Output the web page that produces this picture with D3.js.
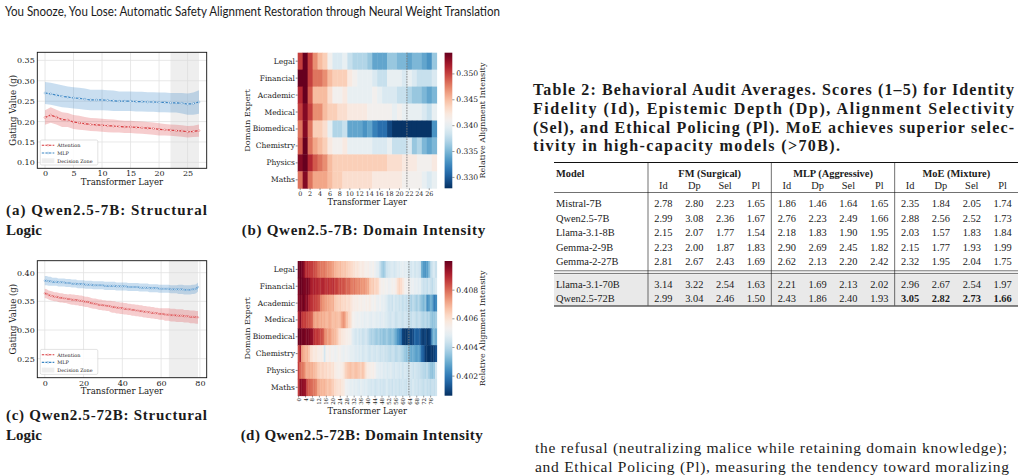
<!DOCTYPE html>
<html>
<head>
<meta charset="utf-8">
<script src="https://cdn.jsdelivr.net/npm/d3@7"></script>
<style>
  html, body { margin: 0; padding: 0; background: #fff; }
  svg { display: block; }
</style>
</head>
<body>
<div id="page"></div>
<script>
// ---------------- data ----------------
const headerText = "You Snooze, You Lose: Automatic Safety Alignment Restoration through Neural Weight Translation";

// (a) Qwen2.5-7B gating, 28 layers
const attn7B = [.210,.216,.211,.205,.204,.199,.197,.195,.193,.192,.191,.190,.189,.188,.187,.187,.186,.185,.184,.183,.181,.180,.179,.178,.177,.175,.176,.178];
const attnStd7B = [.018,.019,.018,.018,.017,.017,.017,.016,.016,.016,.016,.016,.016,.015,.015,.015,.015,.015,.015,.015,.015,.014,.014,.014,.014,.014,.014,.015];
const mlp7B = [.270,.268,.265,.262,.260,.258,.257,.255,.253,.253,.253,.252,.251,.250,.250,.250,.249,.249,.248,.248,.247,.247,.246,.246,.245,.243,.244,.248];
const mlpStd7B = [.027,.027,.027,.027,.026,.026,.026,.026,.025,.025,.025,.025,.025,.024,.024,.024,.024,.024,.024,.024,.024,.024,.024,.024,.025,.026,.027,.029];

// (c) Qwen2.5-72B gating, 80 layers
const attn72B = [
  .364,.363,.361,.360,.359,.358,.358,.357,.356,.356,
  .355,.355,.354,.354,.353,.353,.352,.352,.351,.351,
  .350,.349,.349,.348,.347,.346,.346,.345,.344,.344,
  .343,.343,.342,.342,.341,.340,.340,.339,.339,.338,
  .338,.337,.337,.336,.336,.335,.335,.334,.334,.333,
  .333,.332,.332,.331,.331,.330,.330,.329,.329,.328,
  .328,.328,.327,.327,.327,.326,.326,.326,.325,.325,
  .325,.325,.324,.324,.324,.323,.323,.323,.322,.322];
const attnStd72B = [
  .008,.008,.008,.008,.008,.008,.008,.008,.008,.008,
  .008,.008,.008,.009,.009,.009,.009,.009,.009,.009,
  .009,.009,.009,.009,.009,.009,.009,.009,.009,.009,
  .009,.009,.009,.009,.010,.010,.010,.010,.010,.010,
  .010,.010,.010,.010,.010,.010,.010,.010,.010,.010,
  .010,.010,.010,.010,.010,.010,.010,.010,.010,.010,
  .010,.010,.011,.011,.011,.011,.011,.011,.011,.011,
  .011,.011,.011,.011,.011,.011,.011,.011,.011,.011];
const mlp72B = [
  .386,.386,.385,.385,.384,.384,.384,.383,.383,.383,
  .383,.382,.382,.382,.381,.381,.381,.380,.380,.380,
  .380,.379,.379,.379,.379,.378,.378,.378,.378,.378,
  .378,.377,.377,.377,.377,.377,.377,.376,.376,.376,
  .376,.376,.376,.375,.375,.375,.375,.375,.375,.374,
  .374,.374,.374,.374,.373,.373,.373,.373,.373,.372,
  .372,.372,.372,.372,.372,.371,.371,.371,.371,.371,
  .371,.371,.370,.370,.370,.370,.371,.371,.372,.375];
const mlpStd72B = [
  .008,.008,.008,.008,.007,.007,.007,.007,.007,.007,
  .007,.007,.007,.007,.007,.007,.007,.007,.007,.007,
  .007,.007,.007,.007,.007,.007,.007,.007,.007,.007,
  .007,.007,.007,.007,.007,.007,.007,.007,.007,.007,
  .007,.007,.007,.007,.007,.007,.007,.007,.007,.007,
  .007,.007,.007,.007,.007,.007,.007,.007,.007,.007,
  .007,.007,.007,.007,.007,.007,.007,.007,.007,.008,
  .008,.008,.008,.008,.008,.008,.008,.008,.008,.008];

const legendLabels = ["Attention", "MLP", "Decision Zone"];
const domains = ["Legal", "Financial", "Academic", "Medical", "Biomedical", "Chemistry", "Physics", "Maths"];

// (b) relative alignment intensity, Qwen2.5-7B (rows = domains, cols = 28 layers)
const heat7B = [
  [.350,.354,.350,.347,.345,.344,.341,.339,.339,.340,.338,.337,.337,.337,.336,.334,.334,.334,.336,.336,.335,.335,.334,.335,.335,.334,.333,.336],
  [.354,.354,.350,.348,.348,.347,.345,.344,.344,.344,.342,.341,.340,.340,.340,.339,.338,.338,.340,.340,.340,.339,.340,.339,.338,.338,.338,.339],
  [.351,.354,.349,.345,.345,.345,.343,.341,.341,.342,.340,.340,.340,.340,.340,.341,.340,.339,.339,.339,.338,.338,.337,.336,.336,.335,.334,.335],
  [.350,.353,.350,.347,.347,.345,.344,.344,.343,.343,.342,.342,.342,.342,.341,.341,.341,.341,.341,.340,.341,.340,.340,.340,.340,.339,.338,.340],
  [.348,.353,.348,.344,.344,.343,.340,.337,.337,.338,.334,.334,.334,.333,.334,.332,.331,.331,.329,.328,.328,.328,.328,.328,.328,.328,.328,.333],
  [.349,.354,.348,.346,.345,.344,.342,.341,.341,.342,.340,.340,.340,.340,.340,.339,.339,.339,.340,.338,.338,.338,.339,.336,.337,.335,.334,.335],
  [.353,.354,.351,.349,.348,.347,.345,.344,.344,.344,.344,.344,.344,.344,.344,.344,.344,.344,.343,.343,.343,.342,.342,.342,.341,.341,.341,.342],
  [.348,.353,.348,.346,.346,.346,.345,.344,.344,.343,.343,.343,.343,.343,.343,.342,.342,.342,.342,.342,.342,.341,.341,.341,.341,.340,.339,.340]
];

// (d) relative alignment intensity, Qwen2.5-72B (rows = domains, cols = 80 layers)
const heat72B = [
  [.4099,.4100,.4098,.4096,.4088,.4089,.4087,.4086,.4086,.4084,.4083,.4080,.4079,.4078,.4077,.4078,.4076,.4075,.4074,.4073,
   .4072,.4069,.4068,.4067,.4068,.4066,.4065,.4066,.4064,.4063,.4062,.4061,.4060,.4058,.4059,.4057,.4056,.4057,.4055,.4054,
   .4055,.4053,.4052,.4054,.4051,.4049,.4048,.4042,.4038,.4036,.4040,.4044,.4045,.4046,.4047,.4045,.4046,.4048,.4047,.4049,
   .4050,.4048,.4049,.4047,.4046,.4045,.4047,.4044,.4046,.4045,.4043,.4030,.4026,.4025,.4027,.4032,.4040,.4044,.4046,.4043],
  [.4097,.4100,.4099,.4098,.4097,.4098,.4096,.4092,.4090,.4091,.4089,.4090,.4088,.4089,.4090,.4088,.4087,.4088,.4086,.4087,
   .4088,.4085,.4086,.4083,.4084,.4082,.4083,.4081,.4080,.4081,.4078,.4077,.4078,.4076,.4075,.4076,.4074,.4073,.4074,.4072,
   .4071,.4066,.4064,.4065,.4062,.4063,.4061,.4055,.4053,.4054,.4052,.4053,.4051,.4052,.4054,.4053,.4055,.4060,.4063,.4061,
   .4058,.4054,.4052,.4053,.4052,.4050,.4051,.4049,.4050,.4048,.4049,.4045,.4043,.4044,.4042,.4045,.4043,.4041,.4044,.4046],
  [.4096,.4098,.4097,.4099,.4095,.4096,.4090,.4088,.4087,.4086,.4085,.4084,.4083,.4076,.4074,.4073,.4072,.4071,.4070,.4069,
   .4070,.4065,.4064,.4063,.4064,.4062,.4061,.4062,.4060,.4061,.4059,.4057,.4056,.4055,.4056,.4054,.4055,.4054,.4053,.4055,
   .4054,.4056,.4053,.4052,.4054,.4051,.4050,.4052,.4049,.4050,.4048,.4046,.4044,.4045,.4043,.4046,.4044,.4045,.4043,.4044,
   .4042,.4044,.4042,.4043,.4040,.4038,.4041,.4039,.4037,.4040,.4036,.4034,.4032,.4035,.4024,.4026,.4031,.4028,.4020,.4023],
  [.4089,.4096,.4087,.4085,.4086,.4084,.4083,.4082,.4080,.4072,.4071,.4072,.4070,.4071,.4069,.4070,.4068,.4069,.4070,.4068,
   .4067,.4068,.4067,.4066,.4068,.4072,.4074,.4070,.4066,.4062,.4060,.4054,.4053,.4052,.4051,.4052,.4050,.4051,.4049,.4050,
   .4050,.4049,.4048,.4050,.4049,.4048,.4049,.4047,.4048,.4049,.4047,.4046,.4045,.4044,.4046,.4045,.4043,.4044,.4045,.4044,
   .4043,.4045,.4044,.4043,.4043,.4042,.4044,.4043,.4041,.4043,.4042,.4040,.4039,.4041,.4038,.4040,.4036,.4034,.4035,.4037],
  [.4099,.4100,.4098,.4099,.4097,.4098,.4097,.4095,.4094,.4088,.4086,.4087,.4085,.4084,.4083,.4076,.4074,.4072,.4073,.4070,
   .4069,.4068,.4066,.4062,.4060,.4058,.4057,.4056,.4055,.4054,.4053,.4048,.4046,.4045,.4047,.4044,.4045,.4043,.4044,.4045,
   .4042,.4040,.4038,.4039,.4037,.4036,.4038,.4035,.4036,.4034,.4035,.4036,.4034,.4033,.4035,.4032,.4030,.4025,.4022,.4018,
   .4009,.4008,.4007,.4008,.4010,.4009,.4011,.4016,.4014,.4015,.4013,.4009,.4008,.4010,.4007,.4008,.4012,.4028,.4032,.4030],
  [.4084,.4091,.4072,.4070,.4068,.4069,.4066,.4060,.4059,.4057,.4058,.4056,.4055,.4056,.4054,.4045,.4054,.4053,.4055,.4052,
   .4053,.4051,.4052,.4054,.4053,.4051,.4050,.4052,.4051,.4050,.4049,.4049,.4048,.4047,.4048,.4046,.4047,.4045,.4046,.4047,
   .4045,.4044,.4046,.4045,.4044,.4046,.4045,.4043,.4044,.4045,.4043,.4043,.4042,.4041,.4043,.4042,.4040,.4041,.4042,.4040,
   .4039,.4036,.4034,.4035,.4031,.4029,.4030,.4028,.4027,.4029,.4024,.4016,.4014,.4008,.4007,.4006,.4008,.4007,.4009,.4012],
  [.4086,.4080,.4078,.4077,.4072,.4070,.4071,.4069,.4070,.4068,.4067,.4064,.4063,.4062,.4063,.4061,.4062,.4060,.4061,.4059,
   .4060,.4056,.4055,.4054,.4055,.4056,.4058,.4063,.4065,.4066,.4067,.4065,.4066,.4067,.4066,.4065,.4064,.4066,.4063,.4058,
   .4056,.4055,.4054,.4055,.4053,.4050,.4049,.4048,.4049,.4047,.4048,.4046,.4047,.4048,.4046,.4045,.4047,.4046,.4045,.4046,
   .4044,.4046,.4045,.4044,.4046,.4045,.4043,.4045,.4044,.4043,.4042,.4041,.4040,.4039,.4041,.4038,.4035,.4034,.4036,.4045],
  [.4086,.4096,.4095,.4094,.4093,.4083,.4081,.4080,.4079,.4078,.4077,.4071,.4070,.4069,.4068,.4069,.4067,.4066,.4067,.4065,
   .4064,.4061,.4060,.4059,.4060,.4058,.4057,.4052,.4051,.4050,.4049,.4050,.4048,.4049,.4048,.4047,.4049,.4048,.4047,.4048,
   .4046,.4046,.4045,.4046,.4044,.4045,.4046,.4044,.4045,.4044,.4045,.4046,.4044,.4045,.4043,.4045,.4044,.4045,.4043,.4044,
   .4045,.4044,.4043,.4045,.4045,.4044,.4046,.4044,.4045,.4043,.4044,.4043,.4042,.4044,.4042,.4043,.4041,.4043,.4042,.4044]
];

// Table 2
const tableCaption = [
  "Table 2: Behavioral Audit Averages. Scores (1\u20135) for Identity",
  "Fidelity (Id), Epistemic Depth (Dp), Alignment Selectivity",
  "(Sel), and Ethical Policing (Pl). MoE achieves superior selec-",
  "tivity in high-capacity models (>70B)."
];
const methods = ["FM (Surgical)", "MLP (Aggressive)", "MoE (Mixture)"];
const metrics = ["Id", "Dp", "Sel", "Pl"];
const models = ["Mistral-7B", "Qwen2.5-7B", "Llama-3.1-8B", "Gemma-2-9B", "Gemma-2-27B", "Llama-3.1-70B", "Qwen2.5-72B"];
const fmScores = [[2.78,2.80,2.23,1.65],[2.99,3.08,2.36,1.67],[2.15,2.07,1.77,1.54],[2.23,2.00,1.87,1.83],[2.81,2.67,2.43,1.69],[3.14,3.22,2.54,1.63],[2.99,3.04,2.46,1.50]];
const mlpScores = [[1.86,1.46,1.64,1.65],[2.76,2.23,2.49,1.66],[2.18,1.83,1.90,1.95],[2.90,2.69,2.45,1.82],[2.62,2.13,2.20,2.42],[2.21,1.69,2.13,2.02],[2.43,1.86,2.40,1.93]];
const moeScores = [[2.35,1.84,2.05,1.74],[2.88,2.56,2.52,1.73],[2.03,1.57,1.83,1.84],[2.15,1.77,1.93,1.99],[2.32,1.95,2.04,1.75],[2.96,2.67,2.54,1.97],[3.05,2.82,2.73,1.66]];
const bodyLines = [
  "the refusal (neutralizing malice while retaining domain knowledge);",
  "and Ethical Policing (Pl), measuring the tendency toward moralizing"
];

// ---------------- setup ----------------
const W = 1024, H = 475;
const MPL = "DejaVu Serif";
const TEX = "Liberation Serif";
const SANS = "Lato";
const INK = "#1b1b1b";

const svg = d3.select("#page").append("svg")
  .attr("width", W).attr("height", H)
  .attr("viewBox", `0 0 ${W} ${H}`);
svg.append("rect").attr("width", W).attr("height", H).attr("fill", "#fff");

svg.append("text")
  .attr("x", 5).attr("y", 16)
  .attr("font-family", SANS).attr("font-size", 12.5).attr("fill", INK)
  .attr("textLength", 495).attr("lengthAdjust", "spacingAndGlyphs")
  .text(headerText);

// ---------------- line panels (a), (c) ----------------
function linePanel(o) {
  const g = svg.append("g");
  const x = d3.scaleLinear().domain(o.xDomain).range([o.left, o.right]);
  const y = d3.scaleLinear().domain(o.yDomain).range([o.bottom, o.top]);

  g.append("g").selectAll("line").data(o.xTicks).join("line")
    .attr("x1", d => x(d)).attr("x2", d => x(d))
    .attr("y1", o.top).attr("y2", o.bottom)
    .attr("stroke", "#e2e2e2").attr("stroke-width", 0.8);
  g.append("g").selectAll("line").data(o.yTicks).join("line")
    .attr("x1", o.left).attr("x2", o.right)
    .attr("y1", d => y(d)).attr("y2", d => y(d))
    .attr("stroke", "#e2e2e2").attr("stroke-width", 0.8);

  // decision zone
  g.append("rect")
    .attr("x", x(o.zone[0])).attr("width", x(o.zone[1]) - x(o.zone[0]))
    .attr("y", o.top).attr("height", o.bottom - o.top)
    .attr("fill", "#d9d9d9").attr("fill-opacity", 0.45);

  const series = [
    { vals: o.attn, std: o.attnStd, color: "#d7363a", band: "#e05a5c", bandOp: 0.3 },
    { vals: o.mlp, std: o.mlpStd, color: "#3b86c4", band: "#3c8ac8", bandOp: 0.28 }
  ];
  series.forEach(s => {
    const area = d3.area()
      .x((d, i) => x(i))
      .y0((d, i) => y(d - s.std[i]))
      .y1((d, i) => y(d + s.std[i]));
    g.append("path").datum(s.vals).attr("d", area)
      .attr("fill", s.band).attr("fill-opacity", s.bandOp);
  });
  series.forEach(s => {
    const line = d3.line().x((d, i) => x(i)).y(d => y(d));
    g.append("path").datum(s.vals).attr("d", line)
      .attr("fill", "none").attr("stroke", s.color)
      .attr("stroke-width", 1.2).attr("stroke-dasharray", "2.6,1.3");
    g.append("g").selectAll("circle").data(s.vals).join("circle")
      .attr("cx", (d, i) => x(i)).attr("cy", d => y(d))
      .attr("r", o.markerR).attr("fill", "#fff")
      .attr("stroke", s.color).attr("stroke-width", 0.35);
  });

  // frame
  g.append("rect")
    .attr("x", o.left).attr("y", o.top)
    .attr("width", o.right - o.left).attr("height", o.bottom - o.top)
    .attr("fill", "none").attr("stroke", "#111").attr("stroke-width", 0.9);

  const ax = g.append("g").attr("transform", `translate(0,${o.bottom})`)
    .call(d3.axisBottom(x).tickValues(o.xTicks).tickSize(0).tickPadding(2.5).tickFormat(d3.format("d")));
  const ay = g.append("g").attr("transform", `translate(${o.left},0)`)
    .call(d3.axisLeft(y).tickValues(o.yTicks).tickSize(0).tickPadding(2.5).tickFormat(d3.format(".2f")));
  [ax, ay].forEach(a => {
    a.select(".domain").remove();
    a.selectAll("text").attr("font-family", MPL).attr("font-size", 8).attr("fill", INK);
  });

  g.append("text")
    .attr("x", (o.left + o.right) / 2).attr("y", o.xLabelY)
    .attr("text-anchor", "middle")
    .attr("font-family", MPL).attr("font-size", 8.6).attr("fill", INK)
    .text("Transformer Layer");
  g.append("text")
    .attr("transform", `translate(${o.yLabelX},${(o.top + o.bottom) / 2}) rotate(-90)`)
    .attr("text-anchor", "middle").attr("dominant-baseline", "central")
    .attr("font-family", MPL).attr("font-size", 8.6).attr("fill", INK)
    .text("Gating Value (g)");

  // legend
  const lx = o.left + 3, lw = 57.5, lh = 25, ly = o.bottom - 3.3 - lh;
  const lg = g.append("g");
  lg.append("rect").attr("x", lx).attr("y", ly).attr("width", lw).attr("height", lh)
    .attr("rx", 1.5).attr("fill", "#fff").attr("fill-opacity", 0.85)
    .attr("stroke", "#cfcfcf").attr("stroke-width", 0.6);
  const rowY = d3.scalePoint().domain(legendLabels).range([ly + 5.3, ly + lh - 4.3]);
  legendLabels.forEach((lab, i) => {
    const cy = rowY(lab);
    if (i < 2) {
      const s = series[i];
      lg.append("line").attr("x1", lx + 1.5).attr("x2", lx + 14)
        .attr("y1", cy).attr("y2", cy)
        .attr("stroke", s.color).attr("stroke-width", 1.1).attr("stroke-dasharray", "2.4,1.2");
      lg.append("circle").attr("cx", lx + 7.75).attr("cy", cy).attr("r", 0.9)
        .attr("fill", "#fff").attr("stroke", s.color).attr("stroke-width", 0.35);
    } else {
      lg.append("rect").attr("x", lx + 1.5).attr("y", cy - 2.4).attr("width", 12.5).attr("height", 4.8)
        .attr("fill", "#d9d9d9").attr("fill-opacity", 0.45);
    }
    lg.append("text").attr("x", lx + 17).attr("y", cy)
      .attr("dominant-baseline", "central")
      .attr("font-family", MPL).attr("font-size", 4.9).attr("fill", INK)
      .text(lab);
  });
}

linePanel({
  left: 37.3, right: 206.7, top: 52.3, bottom: 168.3,
  xDomain: [-1.35, 28.35], yDomain: [0.0855, 0.3698],
  xTicks: [0, 5, 10, 15, 20, 25], yTicks: [0.10, 0.15, 0.20, 0.25, 0.30, 0.35],
  zone: [22, 27], attn: attn7B, attnStd: attnStd7B, mlp: mlp7B, mlpStd: mlpStd7B,
  markerR: 0.95, xLabelY: 184.6, yLabelX: 12.7
});
linePanel({
  left: 37.3, right: 206.7, top: 260.7, bottom: 377.7,
  xDomain: [-3.85, 83.5], yDomain: [0.2168, 0.4209],
  xTicks: [0, 20, 40, 60, 80], yTicks: [0.25, 0.30, 0.35, 0.40],
  zone: [64, 79], attn: attn72B, attnStd: attnStd72B, mlp: mlp72B, mlpStd: mlpStd72B,
  markerR: 0.75, xLabelY: 394, yLabelX: 12.7
});

// ---------------- heatmaps (b), (d) ----------------
function heatPanel(o) {
  const g = svg.append("g");
  const nCols = o.data[0].length;
  const x = d3.scaleBand().domain(d3.range(nCols)).range([o.left, o.right]);
  const y = d3.scaleBand().domain(domains).range([o.top, o.bottom]);
  const color = d3.scaleSequential(t => d3.interpolateRdBu(1 - t)).domain([o.vmin, o.vmax]).clamp(true);

  domains.forEach((dom, r) => {
    g.append("g").selectAll("rect").data(o.data[r]).join("rect")
      .attr("x", (d, i) => x(i)).attr("y", y(dom))
      .attr("width", x.bandwidth() + 0.4).attr("height", y.bandwidth() + 0.4)
      .attr("fill", d => color(d));
  });

  g.append("line")
    .attr("x1", x(o.split)).attr("x2", x(o.split))
    .attr("y1", o.top).attr("y2", o.bottom)
    .attr("stroke", "#7a7a7a").attr("stroke-width", 0.9).attr("stroke-dasharray", "1.6,1");

  // y labels
  g.append("g").selectAll("line").data(domains).join("line")
    .attr("x1", o.left - 2).attr("x2", o.left)
    .attr("y1", d => y(d) + y.bandwidth() / 2).attr("y2", d => y(d) + y.bandwidth() / 2)
    .attr("stroke", "#333").attr("stroke-width", 0.6);
  g.append("g").selectAll("text").data(domains).join("text")
    .attr("x", o.left - 2.8).attr("y", d => y(d) + y.bandwidth() / 2)
    .attr("text-anchor", "end").attr("dominant-baseline", "central")
    .attr("font-family", MPL).attr("font-size", 7.5).attr("fill", INK)
    .text(d => d);

  // x labels
  const ticks = d3.range(0, nCols, o.tickStep);
  g.append("g").selectAll("line").data(ticks).join("line")
    .attr("x1", d => x(d) + x.bandwidth() / 2).attr("x2", d => x(d) + x.bandwidth() / 2)
    .attr("y1", o.bottom).attr("y2", o.bottom + 1.8)
    .attr("stroke", "#333").attr("stroke-width", 0.5);
  if (o.rotate) {
    g.append("g").selectAll("text").data(ticks).join("text")
      .attr("transform", d => `translate(${x(d) + x.bandwidth() / 2},${o.bottom + 2.3}) rotate(-90)`)
      .attr("text-anchor", "end").attr("dominant-baseline", "central")
      .attr("font-family", MPL).attr("font-size", 5.4).attr("fill", INK)
      .text(d => d);
  } else {
    g.append("g").selectAll("text").data(ticks).join("text")
      .attr("x", d => x(d) + x.bandwidth() / 2).attr("y", o.bottom + 7.6)
      .attr("text-anchor", "middle")
      .attr("font-family", MPL).attr("font-size", 6.4).attr("fill", INK)
      .text(d => d);
  }

  g.append("text")
    .attr("x", (o.left + o.right) / 2).attr("y", o.xLabelY)
    .attr("text-anchor", "middle")
    .attr("font-family", MPL).attr("font-size", 8.3).attr("fill", INK)
    .text("Transformer Layer");
  g.append("text")
    .attr("transform", `translate(246.7,${(o.top + o.bottom) / 2}) rotate(-90)`)
    .attr("text-anchor", "middle").attr("dominant-baseline", "central")
    .attr("font-family", MPL).attr("font-size", 8.2).attr("fill", INK)
    .text("Domain Expert");

  // colorbar
  const cbL = 444.6, cbR = 452.3;
  const cy = d3.scaleLinear().domain([o.vmin, o.vmax]).range([o.bottom, o.top]);
  const gid = "grad" + o.id;
  const grad = svg.append("defs").append("linearGradient").attr("id", gid)
    .attr("x1", 0).attr("y1", 1).attr("x2", 0).attr("y2", 0);
  grad.selectAll("stop").data(d3.range(0, 1.0001, 0.05)).join("stop")
    .attr("offset", d => d).attr("stop-color", d => d3.interpolateRdBu(1 - d));
  g.append("rect").attr("x", cbL).attr("y", o.top)
    .attr("width", cbR - cbL).attr("height", o.bottom - o.top)
    .attr("fill", `url(#${gid})`);
  const cax = g.append("g").attr("transform", `translate(${cbR},0)`)
    .call(d3.axisRight(cy).tickValues(o.cbTicks).tickSize(2.2).tickPadding(1.8).tickFormat(d3.format(".3f")));
  cax.select(".domain").remove();
  cax.selectAll("line").attr("stroke", "#333").attr("stroke-width", 0.5);
  cax.selectAll("text").attr("font-family", MPL).attr("font-size", 7.6).attr("fill", INK);
  g.append("text")
    .attr("transform", `translate(482.3,${(o.top + o.bottom) / 2}) rotate(-90)`)
    .attr("text-anchor", "middle").attr("dominant-baseline", "central")
    .attr("font-family", MPL).attr("font-size", 8).attr("fill", INK)
    .text("Relative Alignment Intensity");
}

heatPanel({
  id: "b", data: heat7B, left: 297.7, right: 436.7, top: 52.7, bottom: 188.3,
  vmin: 0.3278, vmax: 0.3540, split: 22, tickStep: 2, rotate: false,
  cbTicks: [0.330, 0.335, 0.340, 0.345, 0.350], xLabelY: 205
});
heatPanel({
  id: "d", data: heat72B, left: 297.7, right: 436.7, top: 261, bottom: 395.7,
  vmin: 0.4006, vmax: 0.4100, split: 64, tickStep: 4, rotate: true,
  cbTicks: [0.402, 0.404, 0.406, 0.408], xLabelY: 413.5
});

// ---------------- sub-captions ----------------
function caption(str, x, y, w) {
  const t = svg.append("text")
    .attr("x", x).attr("y", y)
    .attr("font-family", TEX).attr("font-weight", "bold").attr("font-size", 15).attr("fill", INK)
    .text(str);
  if (w) t.attr("textLength", w).attr("lengthAdjust", "spacing");
}
caption("(a) Qwen2.5-7B: Structural", 6, 214.5, 201);
caption("Logic", 6, 234.5);
caption("(b) Qwen2.5-7B: Domain Intensity", 241.7, 234.5, 243.5);
caption("(c) Qwen2.5-72B: Structural", 6, 420, 201);
caption("Logic", 6, 440);
caption("(d) Qwen2.5-72B: Domain Intensity", 240.7, 440, 242);

// ---------------- table ----------------
const capG = svg.append("g");
tableCaption.forEach((line, i) => {
  const t = capG.append("text")
    .attr("x", 533).attr("y", 95 + i * 18.8)
    .attr("font-family", TEX).attr("font-weight", "bold").attr("font-size", 16).attr("fill", INK)
    .text(line);
  t.attr("textLength", i < 3 ? 481 : 307).attr("lengthAdjust", "spacing");
});

const tL = 554, tR = 1018, modelW = 94;
const gx = d3.scaleBand().domain(methods).range([tL + modelW, tR]);
const mx = d3.scaleBand().domain(metrics).range([0, gx.bandwidth()]);
const topRows = models.slice(0, 5), bigRows = models.slice(5);
const ry1 = d3.scalePoint().domain(topRows).range([203.5, 261.5]);
const ry2 = d3.scalePoint().domain(bigRows).range([284.5, 298.5]);
const rowY = m => topRows.includes(m) ? ry1(m) : ry2(m);
const scoreSets = [fmScores, mlpScores, moeScores];

const tg = svg.append("g").attr("font-family", TEX).attr("fill", INK);
tg.append("rect").attr("x", tL).attr("y", 274.2).attr("width", tR - tL).attr("height", 31.6).attr("fill", "#e9e9e9");
[[162.5, 1.1], [192.5, 0.6], [270.8, 0.6], [273.4, 0.6], [306, 1.1]].forEach(([yy, sw]) => {
  tg.append("line").attr("x1", tL).attr("x2", tR).attr("y1", yy).attr("y2", yy)
    .attr("stroke", "#111").attr("stroke-width", sw);
});
methods.forEach(m => {
  tg.append("line").attr("x1", gx(m)).attr("x2", gx(m)).attr("y1", 163).attr("y2", 305.5)
    .attr("stroke", "#111").attr("stroke-width", 0.6);
});

tg.append("text").attr("x", 556).attr("y", 176.5)
  .attr("font-weight", "bold").attr("font-size", 10.4).text("Model");
methods.forEach(m => {
  tg.append("text").attr("x", gx(m) + gx.bandwidth() / 2).attr("y", 176.5)
    .attr("text-anchor", "middle").attr("font-weight", "bold").attr("font-size", 10.4).text(m);
  metrics.forEach(k => {
    tg.append("text").attr("x", gx(m) + mx(k) + mx.bandwidth() / 2).attr("y", 188.6)
      .attr("text-anchor", "middle").attr("font-size", 10.4).text(k);
  });
});

models.forEach((model, r) => {
  const yy = rowY(model) + 3.5;
  tg.append("text").attr("x", 556).attr("y", yy).attr("font-size", 10.4).text(model);
  methods.forEach((m, gi) => {
    scoreSets[gi][r].forEach((v, k) => {
      tg.append("text")
        .attr("x", gx(m) + mx(metrics[k]) + mx.bandwidth() / 2).attr("y", yy)
        .attr("text-anchor", "middle").attr("font-size", 10.4)
        .attr("font-weight", (gi === 2 && r === models.length - 1) ? "bold" : "normal")
        .text(v.toFixed(2));
    });
  });
});

// ---------------- body text ----------------
bodyLines.forEach((line, i) => {
  svg.append("text")
    .attr("x", 535).attr("y", 453 + i * 19)
    .attr("font-family", TEX).attr("font-size", 15.5).attr("fill", INK)
    .attr("textLength", i === 0 ? 472 : 474).attr("lengthAdjust", "spacing")
    .text(line);
});
</script>
</body>
</html>
